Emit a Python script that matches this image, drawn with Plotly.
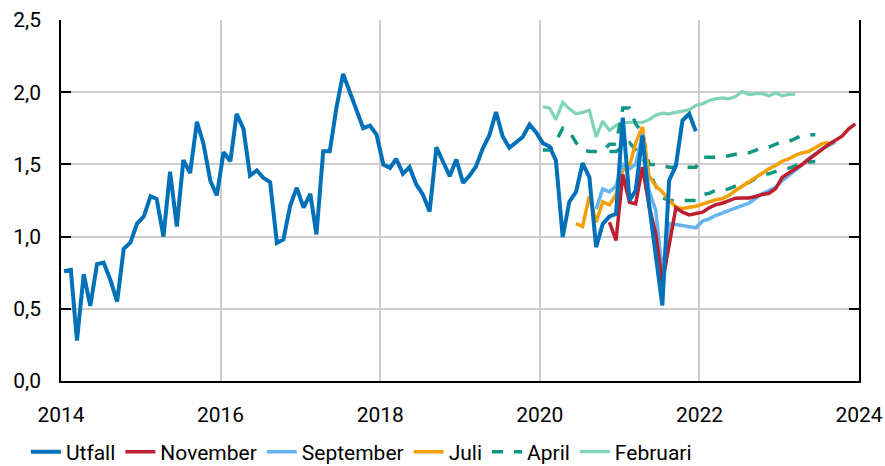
import pandas as pd
import plotly.graph_objects as go

# Monthly series, index 0 = January 2014
months = pd.date_range("2014-01-01", "2023-12-01", freq="MS") + pd.Timedelta(days=14)

utfall = [0.76, 0.77, 0.28, 0.74, 0.52, 0.81, 0.82, 0.70, 0.55, 0.915, 0.96, 1.09,
          1.14, 1.28, 1.26, 1.00, 1.45, 1.07, 1.53, 1.44, 1.795, 1.643, 1.389, 1.285,
          1.585, 1.522, 1.85, 1.746, 1.423, 1.458, 1.407, 1.377, 0.957, 0.98, 1.215, 1.338,
          1.20, 1.296, 1.015, 1.591, 1.591, 1.896, 2.127, 1.995, 1.866, 1.751, 1.769, 1.707,
          1.499, 1.476, 1.539, 1.435, 1.481, 1.361, 1.292, 1.174, 1.619, 1.515, 1.418, 1.534,
          1.372, 1.425, 1.485, 1.61, 1.70, 1.862, 1.695, 1.615, 1.652, 1.69, 1.776, 1.723,
          1.647, 1.624, 1.527, 0.996, 1.24, 1.31, 1.508, 1.411, 0.927, 1.088, 1.139, 1.158,
          1.823, 1.25, 1.319, 1.70, 1.227, 0.881, 0.523, 1.388, 1.492, 1.804, 1.85, 1.73]

november_start = 82
november = [1.10, 0.973, 1.43, 1.238, 1.227, 1.481, 1.215, 1.019, 0.68, 0.95,
            1.20, 1.169, 1.15, 1.16, 1.169, 1.20, 1.22, 1.231, 1.25, 1.266,
            1.268, 1.268, 1.278, 1.292, 1.30, 1.331, 1.411, 1.439, 1.465, 1.499,
            1.534, 1.566, 1.603, 1.638, 1.67, 1.695, 1.746, 1.78]

september_start = 80
september = [1.19, 1.33, 1.31, 1.35, 1.50, 1.47, 1.50, 1.71, 1.32, 1.18,
             0.75, 1.09, 1.084, 1.077, 1.07, 1.061, 1.107, 1.123, 1.146, 1.165,
             1.181, 1.20, 1.215, 1.231, 1.262, 1.296, 1.319, 1.342, 1.388, 1.423,
             1.458, 1.497, 1.539, 1.573, 1.608, 1.631, 1.654]

juli_start = 77
juli = [1.09, 1.07, 1.28, 1.10, 1.24, 1.22, 1.29, 1.46, 1.49, 1.65,
        1.76, 1.42, 1.35, 1.31, 1.25, 1.205, 1.195, 1.20, 1.21, 1.225,
        1.243, 1.255, 1.262, 1.285, 1.319, 1.349, 1.381, 1.407, 1.439, 1.469,
        1.492, 1.522, 1.539, 1.562, 1.58, 1.589, 1.615, 1.642, 1.654]

april_a_start = 72
april_a = [1.60, 1.60, 1.66, 1.75, 1.73, 1.65, 1.60, 1.59, 1.59, 1.59,
           1.64, 1.64, 1.89, 1.89, 1.78, 1.72, 1.50, 1.50, 1.49, 1.48,
           1.48, 1.48, 1.48, 1.48, 1.55, 1.55, 1.55, 1.55, 1.56, 1.57,
           1.58, 1.58, 1.60, 1.615, 1.62, 1.64, 1.66, 1.66, 1.68, 1.70,
           1.705, 1.705]

april_b_start = 82
april_b = [1.59, 1.59, 1.62, 1.65, 1.60, 1.55, 1.45, 1.35, 1.27, 1.25,
           1.25, 1.25, 1.25, 1.25, 1.29, 1.30, 1.32, 1.32, 1.33, 1.35,
           1.37, 1.375, 1.40, 1.43, 1.435, 1.45, 1.467, 1.474, 1.49, 1.515,
           1.52, 1.52]

februari_start = 72
februari = [1.90, 1.89, 1.81, 1.93, 1.885, 1.85, 1.86, 1.875, 1.69, 1.80,
            1.735, 1.77, 1.79, 1.79, 1.785, 1.79, 1.81, 1.84, 1.855, 1.85,
            1.86, 1.87, 1.878, 1.908, 1.92, 1.942, 1.954, 1.961, 1.954, 1.97,
            2.005, 1.984, 1.99, 1.99, 1.975, 1.995, 1.975, 1.985, 1.985]

y_ticks = [0.0, 0.5, 1.0, 1.5, 2.0, 2.5]
x_ticks = ["2014", "2016", "2018", "2020", "2022", "2024"]

C_UTFALL = "#0070B8"
C_NOV = "#BE1E2D"
C_SEP = "#64B4F0"
C_JULI = "#F5A000"
C_APRIL = "#109682"
C_FEB = "#7FD3B6"

FONT = "Roboto, Carlito, Calibri, sans-serif"


def xs(start, vals):
    return months[start:start + len(vals)]


fig = go.Figure()
fig.add_trace(go.Scatter(x=xs(februari_start, februari), y=februari, name="Februari",
                         mode="lines", line=dict(color=C_FEB, width=3.2), legendrank=6))
fig.add_trace(go.Scatter(x=xs(april_a_start, april_a), y=april_a, name="April",
                         mode="lines", legendgroup="april",
                         line=dict(color=C_APRIL, width=3.5, dash="11px,11px"), legendrank=5))
fig.add_trace(go.Scatter(x=xs(april_b_start, april_b), y=april_b, name="April",
                         mode="lines", legendgroup="april", showlegend=False,
                         line=dict(color=C_APRIL, width=3.5, dash="11px,11px")))
fig.add_trace(go.Scatter(x=xs(juli_start, juli), y=juli, name="Juli",
                         mode="lines", line=dict(color=C_JULI, width=3.5), legendrank=4))
fig.add_trace(go.Scatter(x=xs(september_start, september), y=september, name="September",
                         mode="lines", line=dict(color=C_SEP, width=3.5), legendrank=3))
fig.add_trace(go.Scatter(x=xs(november_start, november), y=november, name="November",
                         mode="lines", line=dict(color=C_NOV, width=3.5), legendrank=2))
fig.add_trace(go.Scatter(x=months[:len(utfall)], y=utfall, name="Utfall",
                         mode="lines", line=dict(color=C_UTFALL, width=4), legendrank=1))

fig.update_layout(
    width=885, height=466,
    margin=dict(l=61, r=26, t=20, b=85, autoexpand=False),
    paper_bgcolor="white", plot_bgcolor="white",
    separators=", ",
    font=dict(family=FONT, size=21, color="#000000"),
    showlegend=True,
    legend=dict(orientation="h", x=-0.044, xanchor="left", y=-0.14, yanchor="top",
                font=dict(size=21), itemwidth=30, traceorder="normal",
                bgcolor="rgba(0,0,0,0)"),
)
fig.update_xaxes(
    type="date",
    range=["2014-01-01", "2024-01-01"],
    tickvals=[pd.Timestamp(f"{y}-01-01") for y in x_ticks],
    ticktext=x_ticks,
    showgrid=True, gridcolor="#CCCCCC", gridwidth=1.5,
    showline=True, linecolor="#000000", linewidth=1.5,
    ticks="", ticklabelstandoff=14,
    zeroline=False, automargin=False,
)
fig.update_yaxes(
    range=[0, 2.5],
    tickvals=y_ticks,
    tickformat=".1f",
    showgrid=True, gridcolor="#CCCCCC", gridwidth=1.5,
    showline=True, linecolor="#000000", linewidth=1.5, mirror="ticks",
    ticks="inside", ticklen=10, tickcolor="#000000", tickwidth=1.5,
    ticklabelstandoff=14,
    zeroline=False, automargin=False,
)

fig.write_html(
    "out.html",
    config={"displayModeBar": False},
    post_script="document.body.style.margin='0';document.body.style.overflow='hidden';",
)
